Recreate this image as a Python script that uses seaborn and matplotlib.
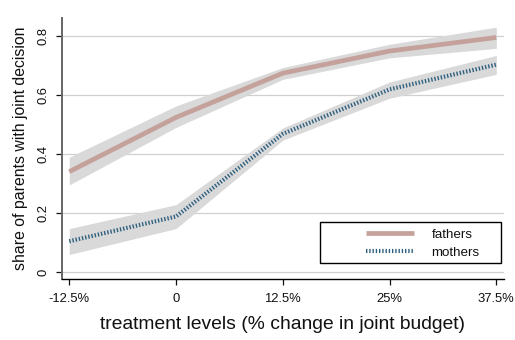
import matplotlib
matplotlib.use("Agg")
import matplotlib.pyplot as plt
import seaborn as sns
import pandas as pd
from matplotlib.lines import Line2D
from matplotlib.patches import Rectangle

# data
treatment = [-12.5, 0, 12.5, 25, 37.5]
tick_labels = ["-12.5%", "0", "12.5%", "25%", "37.5%"]
fathers = [0.340, 0.524, 0.674, 0.749, 0.795]
fathers_lo = [0.295, 0.490, 0.653, 0.726, 0.758]
fathers_hi = [0.389, 0.563, 0.693, 0.772, 0.830]
mothers = [0.104, 0.188, 0.468, 0.619, 0.703]
mothers_lo = [0.059, 0.147, 0.447, 0.589, 0.670]
mothers_hi = [0.147, 0.228, 0.488, 0.644, 0.734]
y_ticks = [0, 0.2, 0.4, 0.6, 0.8]
y_tick_labels = ["0", "0.2", "0.4", "0.6", "0.8"]

sns.set_theme(style="white")
plt.rcParams['font.family'] = ['Liberation Sans', 'DejaVu Sans']
plt.rcParams['text.color'] = '#111111'
plt.rcParams['axes.labelcolor'] = '#111111'

fig = plt.figure(figsize=(5.15, 3.4), dpi=100)
ax = fig.add_axes([0.1204, 0.1794, 0.8582, 0.7676])

band = "#d9d9d9"
c_f = "#c4a29b"
c_m = "#2e5f7f"
dot = (0, (0.33, 0.45))

ax.fill_between(treatment, fathers_lo, fathers_hi, color=band, lw=0, zorder=1)
ax.fill_between(treatment, mothers_lo, mothers_hi, color=band, lw=0, zorder=1)

df = pd.DataFrame({"x": treatment * 2,
                   "y": fathers + mothers,
                   "g": ["fathers"] * 5 + ["mothers"] * 5})
sns.lineplot(data=df[df.g == "fathers"], x="x", y="y", ax=ax, color=c_f, lw=3.4,
             zorder=3, legend=False, solid_capstyle="butt")
sns.lineplot(data=df[df.g == "mothers"], x="x", y="y", ax=ax, color=c_m, lw=3.0,
             linestyle=dot, zorder=3, legend=False, dash_capstyle="butt")

ax.set_xlim(-13.35, 38.4)
ax.set_ylim(-0.024, 0.861)
ax.set_xticks(treatment)
ax.set_xticklabels(tick_labels, fontsize=9.4)
ax.set_yticks(y_ticks)
ax.set_yticklabels(y_tick_labels, fontsize=9.4, rotation=90, va="center")
ax.yaxis.grid(True, color="#d0d0d0", lw=0.9)
ax.set_axisbelow(True)
ax.tick_params(axis="both", direction="out", length=4, width=0.9, colors="#111111",
               bottom=True, left=True)
ax.tick_params(axis="x", pad=6)
ax.tick_params(axis="y", pad=5)
for s in ["top", "right"]:
    ax.spines[s].set_visible(False)
ax.spines["left"].set_color("#666666")
ax.spines["left"].set_linewidth(1.4)
ax.spines["bottom"].set_color("#000000")
ax.spines["bottom"].set_linewidth(1.0)

ax.set_xlabel("treatment levels (% change in joint budget)", fontsize=13.9, labelpad=8)
ax.set_ylabel("share of parents with joint decision", fontsize=11.4, labelpad=7)

# legend frame
ax.add_patch(Rectangle((0.584, 0.0613), 0.409, 0.157, transform=ax.transAxes,
                       facecolor="white", edgecolor="black", lw=1.0, zorder=4))
handles = [Line2D([0], [0], color=c_f, lw=3.4, solid_capstyle="butt"),
           Line2D([0], [0], color=c_m, lw=3.0, linestyle=dot, dash_capstyle="butt")]
leg = ax.legend(handles, ["fathers", "mothers"], loc="center left",
                bbox_to_anchor=(0.688, 0.135), fontsize=9.6, frameon=False,
                handlelength=3.6, handletextpad=1.3,
                borderpad=0, labelspacing=0.4, borderaxespad=0)
leg.set_zorder(5)

fig.savefig("out.png", dpi=100, facecolor="white")
